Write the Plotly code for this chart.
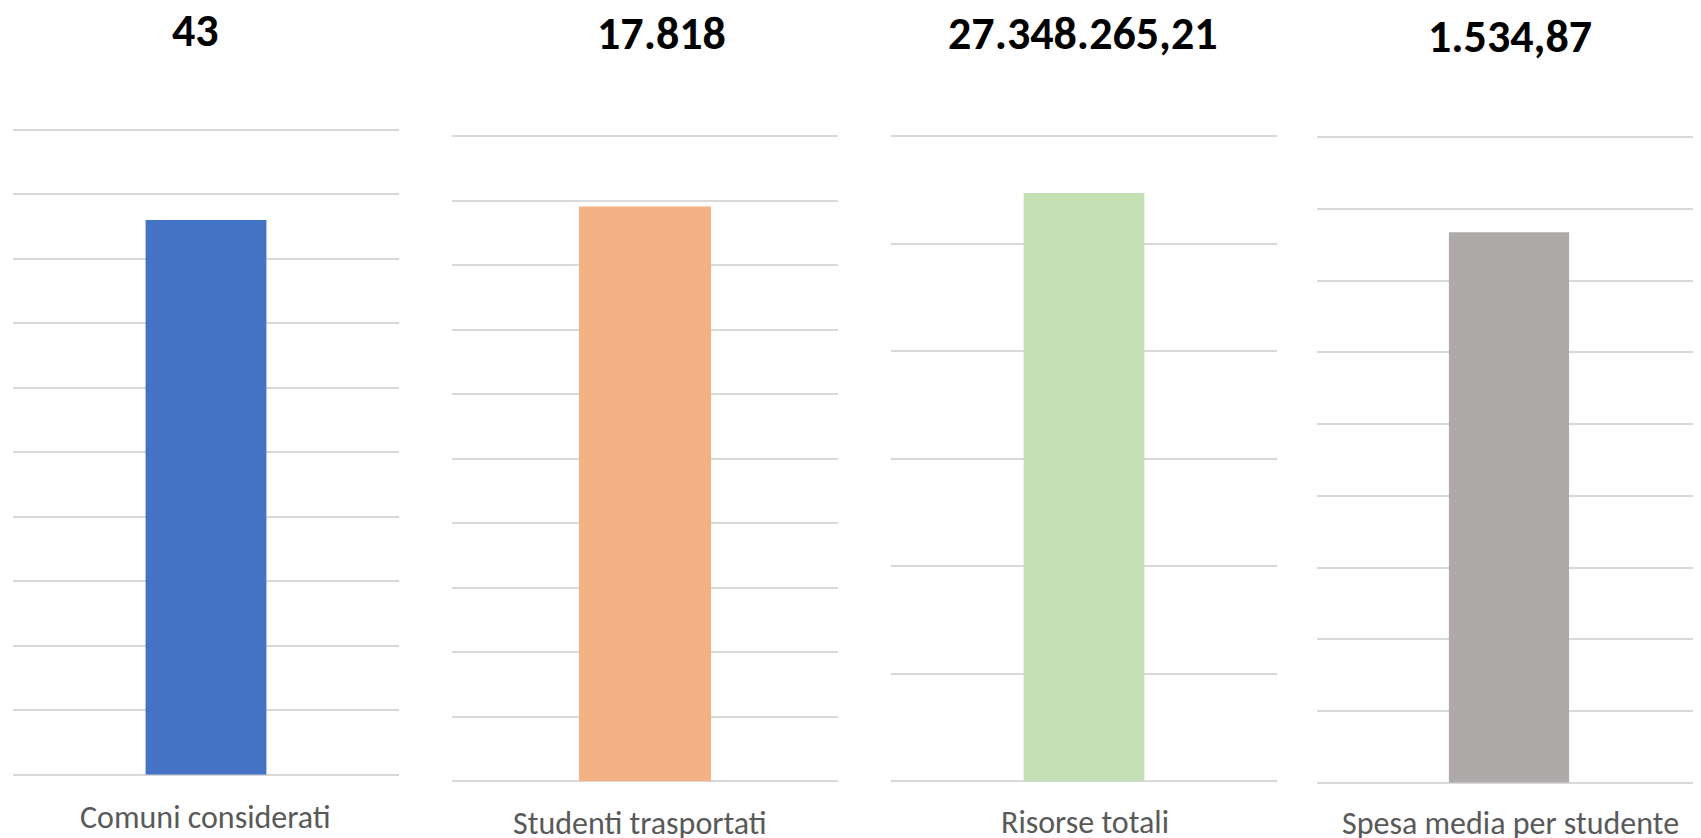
import plotly.graph_objects as go

# ---- data ----
categories = ["Comuni considerati", "Studenti trasportati", "Risorse totali", "Spesa media per studente"]
values = [43, 17818, 27348265.21, 1534.87]
value_labels = ["43", "17.818", "27.348.265,21", "1.534,87"]
axis_max = [50, 20000, 30000000, 1800]
axis_dtick = [5, 2000, 5000000, 200]
colors = ["#4472C4", "#F4B183", "#C5E0B4", "#AEAAAA"]

# ---- layout (page pixel geometry; the page body has an 8px margin) ----
OFF = 8
W, H = 1701 - OFF, 838 - OFF
x_px = [(13, 399), (452, 838), (891, 1277), (1317, 1701)]
y_px = [(129.7, 774.7), (136, 781.3), (136, 781.3), (137.3, 782.7)]
bar_w = [0.313, 0.342, 0.313, 0.313]
title_pos = [(195, 30), (661, 33), (1083, 33), (1510, 36)]
cat_pos = [(205.5, 817), (640, 823), (1085, 822), (1510, 823)]
EXTRA = 3  # px of headroom above top gridline so it is drawn

FONT = "Carlito, Calibri, Lato, sans-serif"


def fx(x):
    return (x - OFF) / W


def fy(y):
    return 1 - (y - OFF) / H


fig = go.Figure()
layout = dict(
    width=W, height=H,
    margin=dict(l=0, r=0, t=0, b=0, pad=0),
    paper_bgcolor="white", plot_bgcolor="white",
    showlegend=False,
    annotations=[],
)

for i in range(4):
    xa = "x" if i == 0 else f"x{i+1}"
    ya = "y" if i == 0 else f"y{i+1}"
    fig.add_trace(go.Bar(
        x=[categories[i]], y=[values[i]],
        width=[bar_w[i]],
        marker=dict(color=colors[i], line=dict(width=0)),
        xaxis=xa, yaxis=ya,
        hoverinfo="skip",
    ))
    x0, x1 = x_px[i]
    yt, yb = y_px[i]
    span = yb - yt
    rmax = axis_max[i] * (span + EXTRA) / span
    xkey = "xaxis" if i == 0 else f"xaxis{i+1}"
    ykey = "yaxis" if i == 0 else f"yaxis{i+1}"
    layout[xkey] = dict(
        domain=[max(0, fx(x0)), min(1, fx(x1))], anchor=ya,
        range=[-0.5, 0.5], showticklabels=False, showgrid=False,
        zeroline=False, showline=False, ticks="",
        type="category",
    )
    layout[ykey] = dict(
        domain=[fy(yb), fy(yt - EXTRA)], anchor=xa,
        range=[0, rmax], dtick=axis_dtick[i], tick0=0,
        showticklabels=False, showgrid=True, gridcolor="#D9D9D9", gridwidth=1.5,
        zeroline=True, zerolinecolor="#D9D9D9", zerolinewidth=1.5,
        showline=False, ticks="",
    )
    tx, ty = title_pos[i]
    layout["annotations"].append(dict(
        text=f"<b>{value_labels[i]}</b>", x=fx(tx), y=fy(ty),
        xref="paper", yref="paper", xanchor="center", yanchor="middle",
        showarrow=False, font=dict(family=FONT, size=46, color="#000000"),
    ))
    cx, cy = cat_pos[i]
    layout["annotations"].append(dict(
        text=categories[i], x=fx(cx), y=fy(cy),
        xref="paper", yref="paper", xanchor="center", yanchor="middle",
        showarrow=False, font=dict(family=FONT, size=32, color="#595959"),
    ))

fig.update_layout(**layout)
fig.write_html("out.html")
